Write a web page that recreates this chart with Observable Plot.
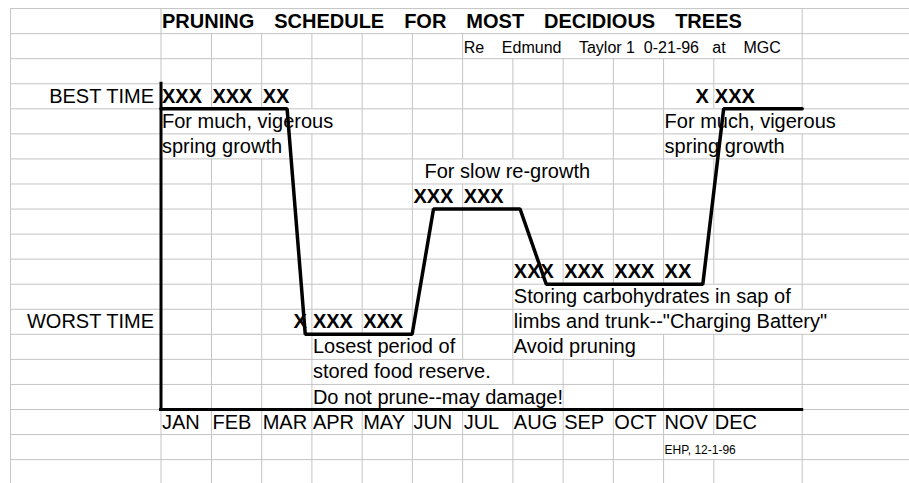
<!DOCTYPE html>
<html><head><meta charset="utf-8">
<script src="https://cdn.jsdelivr.net/npm/d3@7"></script>
<script src="https://cdn.jsdelivr.net/npm/@observablehq/plot@0.6"></script>
<style>
html,body{margin:0;padding:0;background:#fff;}
svg text{white-space:pre;}
</style></head><body><div id="chart"></div>
<script>
// ---------------- data ----------------
const title = "PRUNING SCHEDULE FOR MOST DECIDIOUS TREES";
const subtitle = "Re    Edmund    Taylor 1  0-21-96   at    MGC";
const credit = "EHP, 12-1-96";
const months = ["JAN","FEB","MAR","APR","MAY","JUN","JUL","AUG","SEP","OCT","NOV","DEC"];
const monthCols = ["B","C","D","E","F","G","H","I","J","K","L","M"];
// pruning-quality curve (x in months from start of JAN, y in level units)
const lineMonth = [0, 2.36, 2.70, 4.70, 5.10, 6.72, 7.21, 10.14, 10.53, 12];
const lineLevel = [12, 12, 3, 3, 8, 8, 5, 5, 12, 12];
// level labels: [text, row]
const levelLabels = [["BEST TIME", 4], ["WORST TIME", 13]];
// "X" marks: [column, row, text]
const xMarks = [["B",4,"XXX"],["C",4,"XXX"],["D",4,"XX"],["M",4,"XXX"],
  ["G",8,"XXX"],["H",8,"XXX"],
  ["I",11,"XXX"],["J",11,"XXX"],["K",11,"XXX"],["L",11,"XX"],
  ["E",13,"XXX"],["F",13,"XXX"]];
const xMarksRight = [["L",4,"X"],["D",13,"X"]];
// notes: [column, row, text]
const notes = [["B",5,"For much, vigerous"],["B",6,"spring growth"],
  ["L",5,"For much, vigerous"],["L",6,"spring growth"],
  ["G",7,"  For slow re-growth"],
  ["I",12,"Storing carbohydrates in sap of"],
  ["I",13,"limbs and trunk--\"Charging Battery\""],
  ["I",14,"Avoid pruning"],
  ["E",14,"Losest period of"],["E",15,"stored food reserve."],
  ["E",16,"Do not prune--may damage!"]];
// spreadsheet column edges (A..N), expressed in month units of the chart
const colLetters = "ABCDEFGHIJKLMN";
const colEdges = [-2.817, 0, 0.944, 1.884, 2.824, 3.765, 4.705, 5.645, 6.585, 7.526, 8.466, 9.406, 10.346, 12.0];
const nRows = 19;

// ---------------- layout ----------------
const W = 909, H = 483;
const X0 = -3.0037, X1 = 14.008, Y0 = -2.953, Y1 = 16.322;
const FONT = '"Liberation Sans", Arial, Helvetica, sans-serif';
const SIZE = 20, SUB = 16, SMALL = 12, TITLE_WS = 14.4, PAD = 1, RPAD = -7;
const px = v => (v - X0) / (X1 - X0) * W;
const ci = c => colLetters.indexOf(c);
const rowBottom = r => 16 - r;

const ctx = document.createElement("canvas").getContext("2d");
function tw(s, size, weight, ws = 0) {
  ctx.font = `${weight} ${size}px ${FONT}`;
  return ctx.measureText(s).width + ws * (s.split(" ").length - 1);
}

// left-aligned cell texts (for grid-line overflow hiding)
const leftCells = [
  {c:"B", r:1, t:title, size:SIZE, w:"bold", ws:TITLE_WS},
  {c:"H", r:2, t:subtitle, size:SUB, w:"normal"},
  {c:"L", r:18, t:credit, size:SMALL, w:"normal"},
  ...xMarks.map(([c,r,t]) => ({c, r, t, size:SIZE, w:"bold"})),
  ...notes.map(([c,r,t]) => ({c, r, t, size:SIZE, w:"normal"})),
  ...months.map((t,i) => ({c:monthCols[i], r:17, t, size:SIZE, w:"normal"}))
];
const hidden = new Set();
for (const d of leftCells) {
  const i = ci(d.c);
  const end = px(colEdges[i]) + PAD + tw(d.t, d.size, d.w, d.ws || 0);
  for (let j = i + 1; j < colEdges.length; j++) if (px(colEdges[j]) < end) hidden.add(j + "," + d.r);
}
const vsegs = [];
for (let j = 0; j < colEdges.length; j++)
  for (let r = 1; r <= nRows; r++)
    if (!hidden.has(j + "," + r)) vsegs.push({x: colEdges[j], y1: rowBottom(r), y2: rowBottom(r) + 1});
const hLines = d3.range(-3, 17);
const curve = lineMonth.map((m, i) => ({m, v: lineLevel[i]}));

const txt = (data, o) => Plot.text(data, {lineAnchor:"bottom", dy:-6, fontFamily:FONT, fill:"#000", ...o});

const plot = Plot.plot({
  width: W, height: H, margin: 0,
  x: {domain: [X0, X1], axis: null},
  y: {domain: [Y0, Y1], axis: null},
  style: {background: "#fff", fontFamily: FONT},
  marks: [
    Plot.ruleY(hLines, {y: d => d, x1: colEdges[0], x2: X1, stroke: "#c4c4c4", strokeWidth: 1}),
    Plot.ruleX(vsegs, {x: "x", y1: "y1", y2: "y2", stroke: "#c4c4c4", strokeWidth: 1}),
    // texts
    txt([{c:"B", r:1, t:title}], {x: d => colEdges[ci(d.c)], y: d => rowBottom(d.r), text: "t", textAnchor:"start", dx:PAD, fontSize:SIZE, fontWeight:"bold"}),
    txt([{c:"H", r:2, t:subtitle}], {x: d => colEdges[ci(d.c)], y: d => rowBottom(d.r), text: "t", textAnchor:"start", dx:PAD, fontSize:SUB}),
    txt([{c:"L", r:18, t:credit}], {x: d => colEdges[ci(d.c)], y: d => rowBottom(d.r), text: "t", textAnchor:"start", dx:PAD, fontSize:SMALL}),
    txt(levelLabels, {x: colEdges[1], y: d => rowBottom(d[1]), text: d => d[0], textAnchor:"end", dx:RPAD, fontSize:SIZE}),
    txt(xMarks, {x: d => colEdges[ci(d[0])], y: d => rowBottom(d[1]), text: d => d[2], textAnchor:"start", dx:PAD, fontSize:SIZE, fontWeight:"bold"}),
    txt(xMarksRight, {x: d => colEdges[ci(d[0]) + 1], y: d => rowBottom(d[1]), text: d => d[2], textAnchor:"end", dx:-5, fontSize:SIZE, fontWeight:"bold"}),
    txt(notes, {x: d => colEdges[ci(d[0])], y: d => rowBottom(d[1]), text: d => d[2], textAnchor:"start", dx:PAD, fontSize:SIZE}),
    txt(months, {x: (d, i) => colEdges[ci(monthCols[i])], y: rowBottom(17), text: d => d, textAnchor:"start", dx:PAD, fontSize:SIZE}),
    // chart frame + curve
    Plot.ruleX([0], {y1: 0, y2: 13, stroke: "#000", strokeWidth: 3, strokeLinecap: "square"}),
    Plot.ruleY([0], {x1: 0, x2: 12, stroke: "#000", strokeWidth: 3, strokeLinecap: "square"}),
    Plot.line(curve, {x: "m", y: "v", stroke: "#000", strokeWidth: 3.5, strokeLinejoin: "miter", curve: "linear"})
  ]
});
d3.select(plot).selectAll("text").filter(function() { return this.textContent === title; }).style("word-spacing", TITLE_WS + "px");
document.getElementById("chart").appendChild(plot);
</script></body></html>
